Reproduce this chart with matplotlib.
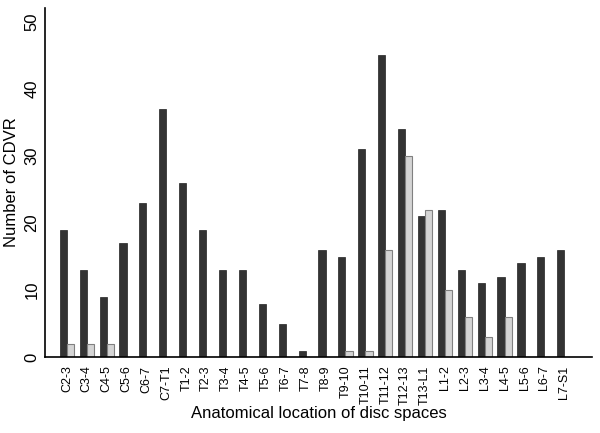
import numpy as np
import matplotlib
matplotlib.use("Agg")
import matplotlib.pyplot as plt

plt.rcParams['font.family'] = ['Liberation Sans', 'DejaVu Sans']

"""data read off the chart"""
locations = ['C2-3', 'C3-4', 'C4-5', 'C5-6', 'C6-7', 'C7-T1', 'T1-2', 'T2-3', 'T3-4',
             'T4-5', 'T5-6', 'T6-7', 'T7-8', 'T8-9', 'T9-10', 'T10-11', 'T11-12',
             'T12-13', 'T13-L1', 'L1-2', 'L2-3', 'L3-4', 'L4-5', 'L5-6', 'L6-7', 'L7-S1']
dark_counts = [19, 13, 9, 17, 23, 37, 26, 19, 13, 13, 8, 5, 1, 16, 15, 31, 45,
               34, 21, 22, 13, 11, 12, 14, 15, 16]
light_counts = [2, 2, 2, 0, 0, 0, 0, 0, 0, 0, 0, 0, 0, 0, 1, 1, 16,
                30, 22, 10, 6, 3, 6, 0, 0, 0]

x = np.arange(len(locations))
w = 0.36

fig = plt.figure(figsize=(6, 4.33), dpi=100)
ax = fig.add_axes([0.075, 0.175, 0.912, 0.807])

ax.bar(x - w / 2, dark_counts, width=w, color='#333333', edgecolor='#222222', linewidth=0.5)
lx = [xi + w / 2 for xi, v in zip(x, light_counts) if v > 0]
lv = [v for v in light_counts if v > 0]
ax.bar(lx, lv, width=w, color='#d4d4d4', edgecolor='#808080', linewidth=0.8)

ax.set_xlim(-1.1, len(locations) - 1 + 1.4)
ax.set_ylim(0, 52.1)
ax.set_yticks([0, 10, 20, 30, 40, 50])
ax.set_xticks(x)
ax.set_xticklabels(locations, rotation=90, fontsize=9)
ax.tick_params(axis='x', length=0, pad=6)
ax.tick_params(axis='y', length=0, labelsize=12, pad=4)
for lab in ax.get_yticklabels():
    lab.set_rotation(90)
    lab.set_va('center')

ax.spines['top'].set_visible(False)
ax.spines['right'].set_visible(False)
ax.spines['left'].set_linewidth(1.2)
ax.spines['bottom'].set_linewidth(1.2)

ax.set_xlabel('Anatomical location of disc spaces', fontsize=12, labelpad=1)
ax.set_ylabel('Number of CDVR', fontsize=12, labelpad=4)

fig.savefig('out.png', dpi=100)
